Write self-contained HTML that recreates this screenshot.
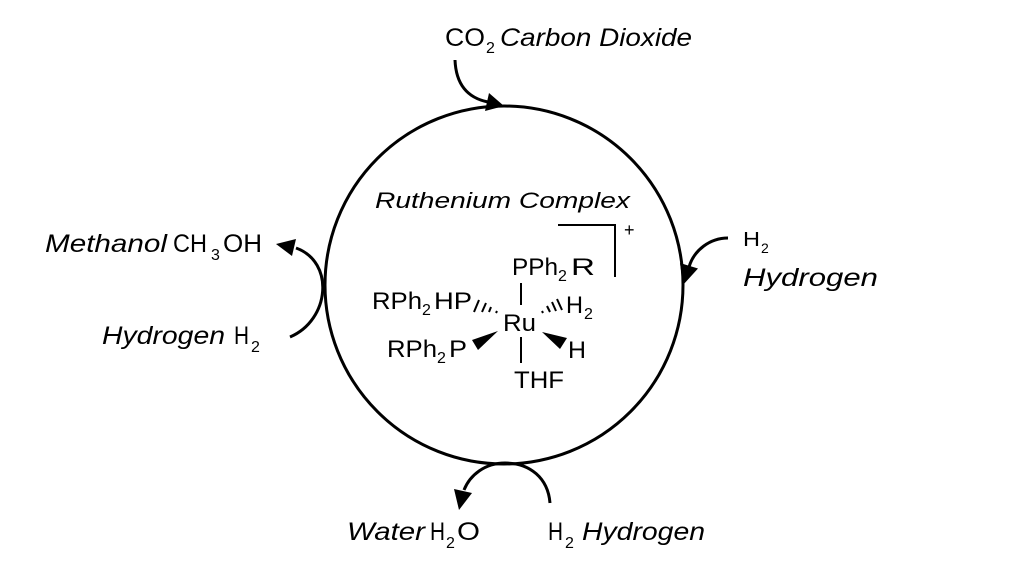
<!DOCTYPE html>
<html><head><meta charset="utf-8"><style>
html,body{margin:0;padding:0;background:#fff;}
svg{display:block;}
.c{font-family:"Liberation Sans",sans-serif;fill:#000;}
.i{font-style:italic;}
</style></head><body>
<svg width="1024" height="564" viewBox="0 0 1024 564" xmlns="http://www.w3.org/2000/svg">
<rect width="1024" height="564" fill="#fff"/>
<!-- main circle -->
<circle cx="504" cy="285" r="179" fill="none" stroke="#000" stroke-width="3"/>

<!-- CO2 arrow -->
<path d="M455,60 C456,85 468,98 488,102" fill="none" stroke="#000" stroke-width="3"/>
<polygon points="504,106 485,111 489,93" fill="#000"/>
<!-- Methanol arrow -->
<path d="M290,337 C330,320 335,262 296,248" fill="none" stroke="#000" stroke-width="3"/>
<polygon points="276,244 296,239 292,256" fill="#000"/>
<!-- bottom arrow -->
<path d="M550,503 C548,478 530,463 505,463 C485,463 470,475 464,490" fill="none" stroke="#000" stroke-width="3"/>
<polygon points="459,510 472,493 454,489" fill="#000"/>
<!-- right arrow -->
<path d="M728,238 C710,238 694,250 689,267" fill="none" stroke="#000" stroke-width="3"/>
<polygon points="683,285 698,268.5 680,263" fill="#000"/>

<!-- labels -->
<g class="c" font-size="25">
<text x="445" y="46" textLength="40" lengthAdjust="spacingAndGlyphs">CO</text>
<text x="486" y="53" font-size="16">2</text>
<text x="500" y="46" class="i" textLength="192" lengthAdjust="spacingAndGlyphs">Carbon Dioxide</text>

<text x="45" y="252" class="i" textLength="122" lengthAdjust="spacingAndGlyphs">Methanol</text>
<text x="173" y="252" textLength="34" lengthAdjust="spacingAndGlyphs">CH</text>
<text x="211" y="260" font-size="16">3</text>
<text x="223" y="252" textLength="39" lengthAdjust="spacingAndGlyphs">OH</text>

<text x="102" y="344" class="i" textLength="123" lengthAdjust="spacingAndGlyphs">Hydrogen</text>
<text x="234" y="344" textLength="15" lengthAdjust="spacingAndGlyphs">H</text>
<text x="251" y="352" font-size="16">2</text>

<text x="347" y="540" class="i" textLength="78" lengthAdjust="spacingAndGlyphs">Water</text>
<text x="430" y="540" textLength="15" lengthAdjust="spacingAndGlyphs">H</text>
<text x="446" y="548" font-size="16">2</text>
<text x="457" y="540" textLength="23" lengthAdjust="spacingAndGlyphs">O</text>

<text x="548" y="540" textLength="15" lengthAdjust="spacingAndGlyphs">H</text>
<text x="565" y="548" font-size="16">2</text>
<text x="582" y="540" class="i" textLength="123" lengthAdjust="spacingAndGlyphs">Hydrogen</text>

<text x="375" y="208" class="i" font-size="22" textLength="255" lengthAdjust="spacingAndGlyphs">Ruthenium Complex</text>

<text x="743" y="246" font-size="20" textLength="17" lengthAdjust="spacingAndGlyphs">H</text>
<text x="761" y="253" font-size="14">2</text>
<text x="743" y="286" class="i" font-size="25" textLength="135" lengthAdjust="spacingAndGlyphs">Hydrogen</text>
</g>

<!-- chemical structure -->
<g class="c" font-size="24">
<text x="512" y="275" textLength="46" lengthAdjust="spacingAndGlyphs">PPh</text>
<text x="558" y="281" font-size="16">2</text>
<text x="571" y="275" textLength="24" lengthAdjust="spacingAndGlyphs">R</text>

<text x="372" y="309" textLength="50" lengthAdjust="spacingAndGlyphs">RPh</text>
<text x="422" y="315" font-size="16">2</text>
<text x="434" y="309" textLength="38" lengthAdjust="spacingAndGlyphs">HP</text>

<text x="387" y="357" textLength="50" lengthAdjust="spacingAndGlyphs">RPh</text>
<text x="437" y="363" font-size="16">2</text>
<text x="449" y="357" textLength="18" lengthAdjust="spacingAndGlyphs">P</text>

<text x="503" y="331" textLength="33" lengthAdjust="spacingAndGlyphs">Ru</text>

<text x="566" y="313" textLength="17" lengthAdjust="spacingAndGlyphs">H</text>
<text x="584" y="319" font-size="16">2</text>

<text x="568" y="358" textLength="18" lengthAdjust="spacingAndGlyphs">H</text>

<text x="514" y="388" textLength="50" lengthAdjust="spacingAndGlyphs">THF</text>

<text x="624" y="236" font-size="18">+</text>
</g>

<g stroke="#000" stroke-width="2" fill="none">
<line x1="521" y1="283" x2="521" y2="305"/>
<line x1="521" y1="337" x2="521" y2="363"/>
<polyline points="558,225 615,225 615,277"/>
<!-- left hashes -->
<line x1="474" y1="312" x2="479" y2="300"/>
<line x1="482" y1="312" x2="486" y2="303"/>
<line x1="489" y1="312" x2="491" y2="307"/>
<line x1="496" y1="313" x2="497" y2="311"/>
<!-- right hashes -->
<line x1="542" y1="311" x2="543" y2="313"/>
<line x1="547" y1="306" x2="550" y2="312"/>
<line x1="552" y1="302" x2="556" y2="311"/>
<line x1="557" y1="299" x2="562" y2="310"/>
</g>
<polygon points="498,331 472,340 478,350" fill="#000"/>
<polygon points="542,332 567,338 560,349" fill="#000"/>
</svg>
</body></html>
